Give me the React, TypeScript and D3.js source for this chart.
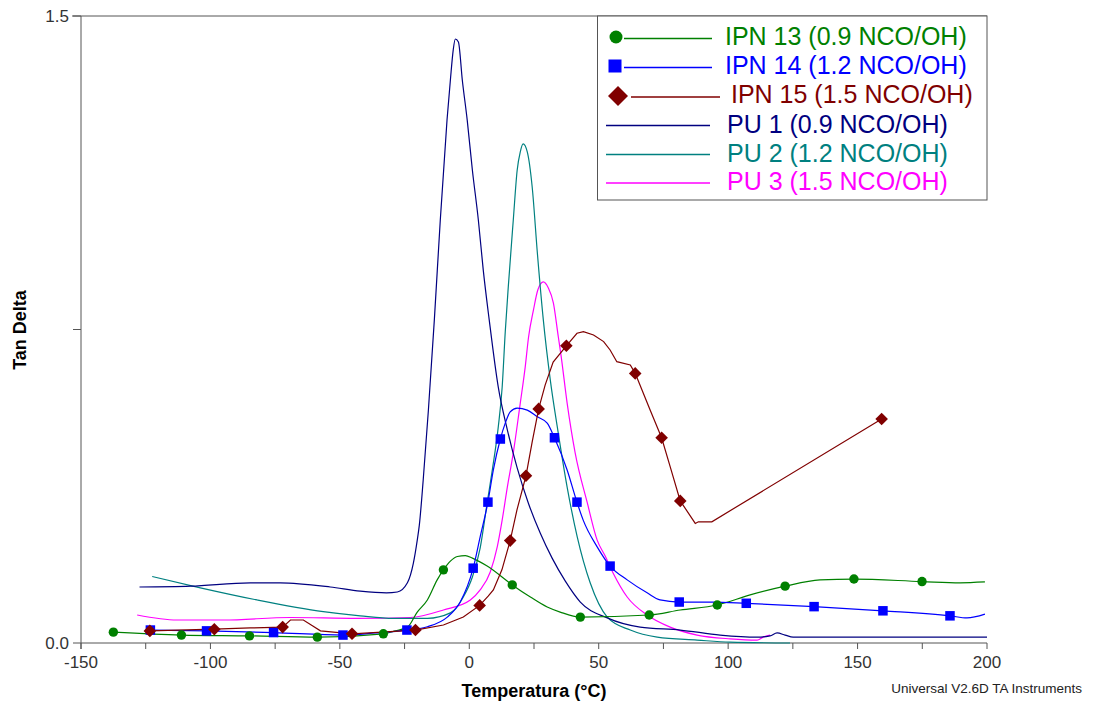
import React from "react";
import * as d3 from "d3";

// Tan delta vs temperature (DMA) for three IPNs and three polyurethanes
const xTicksMajor = [-150, -100, -50, 0, 50, 100, 150, 200];
const xTicksMinor = [-125, -75, -25, 25, 75, 125, 175];
const yTicks = [0, 0.75, 1.5];
const yTickLabels = ["0.0", "", "1.5"];

const pu1Temp = [-127.4, -107.7, -84.6, -73.0, -53.7, -42.1, -32.0, -27.8, -23.9, -21.6, -20.1, -19.3, -17.8, -15.8, -13.5, -11.2, -8.6, -7.3, -6.2, -5.4, -4.2, -2.7, -0.8, 1.2, 3.5, 5.4, 7.7, 11.2, 14.7, 18.5, 22.8, 27.4, 32.0, 37.1, 42.9, 53.3, 66.0, 81.5, 96.9, 111.2, 116.2, 118.9, 122.0, 125.1, 200];
const pu1Tan = [0.134, 0.136, 0.144, 0.144, 0.134, 0.124, 0.120, 0.122, 0.144, 0.191, 0.246, 0.282, 0.390, 0.557, 0.773, 1.012, 1.251, 1.347, 1.419, 1.445, 1.438, 1.347, 1.251, 1.131, 1.012, 0.892, 0.773, 0.612, 0.510, 0.419, 0.335, 0.263, 0.203, 0.148, 0.098, 0.060, 0.038, 0.031, 0.019, 0.014, 0.017, 0.024, 0.019, 0.014, 0.014];

const pu2Temp = [-122.5, -103.9, -82.0, -56.4, -42.1, -29.3, -16.2, -7.3, -2.3, 1.2, 4.2, 6.9, 8.9, 11.2, 12.7, 13.9, 15.1, 17.0, 18.5, 19.7, 20.8, 22.4, 24.3, 26.3, 28.6, 31.3, 34.0, 37.8, 41.7, 46.7, 53.3, 62.2, 72.6, 88.0, 100.8, 123.9];
const pu2Tan = [0.159, 0.132, 0.103, 0.075, 0.065, 0.059, 0.059, 0.072, 0.110, 0.158, 0.227, 0.335, 0.414, 0.517, 0.612, 0.745, 0.855, 1.012, 1.131, 1.175, 1.194, 1.175, 1.091, 0.933, 0.773, 0.629, 0.517, 0.373, 0.254, 0.144, 0.062, 0.031, 0.014, 0.007, 0.002, 0.0];

const pu3Temp = [-128.3, -112.9, -95.0, -69.1, -43.4, -22.8, -10.0, 0.4, 4.2, 8.1, 10.8, 12.7, 14.7, 17.0, 19.7, 21.6, 22.9, 24.8, 26.5, 28.6, 30.5, 32.5, 34.4, 35.4, 37.8, 40.9, 45.6, 49.4, 52.5, 55.6, 61.0, 68.7, 77.6, 88.0, 100.8, 111.2, 113.5, 116.2];
const pu3Tan = [0.067, 0.055, 0.055, 0.061, 0.059, 0.061, 0.079, 0.103, 0.127, 0.170, 0.230, 0.294, 0.373, 0.455, 0.574, 0.660, 0.732, 0.797, 0.845, 0.864, 0.850, 0.813, 0.732, 0.690, 0.574, 0.455, 0.335, 0.246, 0.208, 0.167, 0.110, 0.067, 0.038, 0.019, 0.010, 0.007, 0.014, 0.019];

const ipn13Temp = [-137.5, -111.2, -84.9, -58.7, -33.2, -28.6, -23.9, -20.1, -16.2, -12.4, -10.0, -7.3, -4.6, -1.5, 1.2, 6.9, 16.6, 23.6, 30.1, 35.1, 42.9, 69.5, 81.5, 95.8, 108.5, 122.0, 135.5, 148.6, 174.9, 189.6, 199.2];
const ipn13Tan = [0.026, 0.019, 0.017, 0.014, 0.022, 0.029, 0.038, 0.074, 0.103, 0.151, 0.175, 0.196, 0.207, 0.209, 0.203, 0.184, 0.139, 0.110, 0.086, 0.074, 0.062, 0.067, 0.079, 0.091, 0.115, 0.136, 0.151, 0.153, 0.147, 0.144, 0.146];
const ipn13MarkTemp = [-137.5, -111.2, -84.9, -58.7, -33.2, -10.0, 16.6, 42.9, 69.5, 95.8, 122.0, 148.6, 174.9];
const ipn13MarkTan = [0.026, 0.019, 0.017, 0.014, 0.022, 0.175, 0.139, 0.062, 0.067, 0.091, 0.136, 0.153, 0.147];

const ipn14Temp = [-123.2, -101.5, -75.6, -48.8, -36.3, -24.1, -16.2, -8.5, -3.5, 1.5, 4.2, 7.2, 9.3, 12.0, 13.9, 15.8, 18.5, 22.4, 26.3, 30.1, 32.9, 37.8, 41.6, 44.0, 49.4, 54.4, 61.0, 68.7, 73.7, 81.1, 94.2, 107.0, 133.2, 159.8, 185.7, 192.3, 199.2];
const ipn14Tan = [0.031, 0.029, 0.025, 0.019, 0.024, 0.031, 0.039, 0.062, 0.098, 0.179, 0.254, 0.337, 0.414, 0.488, 0.526, 0.553, 0.562, 0.557, 0.541, 0.526, 0.491, 0.414, 0.337, 0.294, 0.230, 0.184, 0.151, 0.120, 0.103, 0.098, 0.098, 0.095, 0.087, 0.077, 0.065, 0.060, 0.069];
const ipn14MarkTemp = [-123.2, -101.5, -75.6, -48.8, -24.1, 1.5, 7.2, 12.0, 32.9, 41.6, 54.4, 81.1, 107.0, 133.2, 159.8, 185.7];
const ipn14MarkTan = [0.031, 0.029, 0.025, 0.019, 0.031, 0.179, 0.337, 0.488, 0.491, 0.337, 0.184, 0.098, 0.095, 0.087, 0.077, 0.065];

const ipn15Temp = [-123.4, -98.5, -84.6, -72.1, -69.1, -64.1, -60.6, -57.5, -45.3, -20.8, -10.0, -2.3, 4.0, 7.3, 9.3, 12.6, 15.8, 18.4, 21.9, 24.3, 26.8, 29.3, 32.4, 37.5, 41.6, 44.1, 48.0, 51.9, 54.4, 57.0, 62.2, 64.1, 69.9, 74.3, 77.6, 81.5, 87.3, 88.5, 93.7, 159.3];
const ipn15Tan = [0.029, 0.033, 0.036, 0.038, 0.055, 0.055, 0.041, 0.029, 0.022, 0.031, 0.043, 0.062, 0.090, 0.112, 0.127, 0.175, 0.245, 0.318, 0.400, 0.481, 0.560, 0.617, 0.672, 0.711, 0.741, 0.745, 0.737, 0.721, 0.701, 0.673, 0.665, 0.645, 0.557, 0.491, 0.422, 0.340, 0.286, 0.290, 0.290, 0.536];
const ipn15MarkTemp = [-123.4, -98.5, -72.1, -45.3, -20.8, 4.0, 15.8, 21.9, 26.8, 37.5, 64.1, 74.3, 81.5, 159.3];
const ipn15MarkTan = [0.029, 0.033, 0.038, 0.022, 0.031, 0.090, 0.245, 0.400, 0.560, 0.711, 0.645, 0.491, 0.340, 0.536];

type Pt = [number, number];
const zip = (a: number[], b: number[]): Pt[] => a.map((v, i) => [v, b[i]]);

const W = 1093;
const H = 704;
const left = 81;
const right = 987;
const top = 16;
const bottom = 643;

const x = d3.scaleLinear().domain([-150, 200]).range([left, right]);
const y = d3.scaleLinear().domain([0, 1.5]).range([bottom, top]);

const smooth = d3.line<Pt>().x((d) => x(d[0])).y((d) => y(d[1])).curve(d3.curveMonotoneX);
const straight = d3.line<Pt>().x((d) => x(d[0])).y((d) => y(d[1]));

const GREEN = "#008000";
const BLUE = "#0000ff";
const DARKRED = "#800000";
const NAVY = "#000080";
const TEAL = "#008080";
const MAGENTA = "#ff00ff";

const FONT = "'Liberation Sans', Arial, Helvetica, sans-serif";

function Circle({ cx, cy, r, fill }: { cx: number; cy: number; r: number; fill: string }) {
  return <circle cx={cx} cy={cy} r={r} fill={fill} />;
}
function Square({ cx, cy, s, fill }: { cx: number; cy: number; s: number; fill: string }) {
  return <rect x={cx - s / 2} y={cy - s / 2} width={s} height={s} fill={fill} />;
}
function Diamond({ cx, cy, h, fill }: { cx: number; cy: number; h: number; fill: string }) {
  return <path d={`M${cx},${cy - h}L${cx + h},${cy}L${cx},${cy + h}L${cx - h},${cy}Z`} fill={fill} />;
}

const legendRows = [
  { label: "IPN 13 (0.9 NCO/OH)", color: GREEN, marker: "circle", lineX: [624, 712], textX: 725, lineY: 38.5, base: 45 },
  { label: "IPN 14 (1.2 NCO/OH)", color: BLUE, marker: "square", lineX: [624, 712], textX: 725, lineY: 67.5, base: 74 },
  { label: "IPN 15 (1.5 NCO/OH)", color: DARKRED, marker: "diamond", lineX: [631, 720], textX: 731, lineY: 97, base: 103 },
  { label: "PU 1 (0.9 NCO/OH)", color: NAVY, marker: "", lineX: [606, 710], textX: 727, lineY: 125.5, base: 133 },
  { label: "PU 2 (1.2 NCO/OH)", color: TEAL, marker: "", lineX: [606, 710], textX: 727, lineY: 154.5, base: 162 },
  { label: "PU 3 (1.5 NCO/OH)", color: MAGENTA, marker: "", lineX: [606, 710], textX: 727, lineY: 183, base: 190 },
];

export default function App() {
  const axisColor = "#555";
  const pu1 = zip(pu1Temp, pu1Tan);
  const pu2 = zip(pu2Temp, pu2Tan);
  const pu3 = zip(pu3Temp, pu3Tan);
  const ipn13 = zip(ipn13Temp, ipn13Tan);
  const ipn14 = zip(ipn14Temp, ipn14Tan);
  const ipn15 = zip(ipn15Temp, ipn15Tan);
  const m13 = zip(ipn13MarkTemp, ipn13MarkTan);
  const m14 = zip(ipn14MarkTemp, ipn14MarkTan);
  const m15 = zip(ipn15MarkTemp, ipn15MarkTan);

  return (
    <svg
      width={W}
      height={H}
      viewBox={`0 0 ${W} ${H}`}
      style={{ position: "absolute", left: 0, top: 0, background: "#fff" }}
      fontFamily={FONT}
    >
      <rect x={0} y={0} width={W} height={H} fill="#fff" />

      {/* axes */}
      <line x1={left} y1={top} x2={left} y2={bottom + 6} stroke={axisColor} strokeWidth={1} />
      <line x1={left} y1={bottom} x2={right} y2={bottom} stroke={axisColor} strokeWidth={1} />
      <line x1={left - 9} y1={top} x2={right} y2={top} stroke={axisColor} strokeWidth={1} />
      {yTicks.map((t, i) => (
        <g key={"y" + t}>
          <line x1={left - 8} x2={left} y1={y(t)} y2={y(t)} stroke={axisColor} />
          {yTickLabels[i] && (
            <text x={left - 12} y={y(t)} dy="0.35em" textAnchor="end" fontSize={17} fill="#333">
              {yTickLabels[i]}
            </text>
          )}
        </g>
      ))}
      {xTicksMajor.map((t) => (
        <g key={"x" + t}>
          <line x1={x(t)} x2={x(t)} y1={bottom} y2={bottom + 6} stroke={axisColor} />
          <text x={x(t)} y={668} textAnchor="middle" fontSize={17} fill="#333">
            {t}
          </text>
        </g>
      ))}
      {xTicksMinor.map((t) => (
        <line key={"xm" + t} x1={x(t)} x2={x(t)} y1={bottom} y2={bottom + 6} stroke={axisColor} />
      ))}

      <text x={534} y={697} textAnchor="middle" fontSize={18} fontWeight="bold" fill="#000">
        Temperatura (°C)
      </text>
      <text
        transform={`translate(26,330) rotate(-90)`}
        textAnchor="middle"
        fontSize={18}
        fontWeight="bold"
        fill="#000"
      >
        Tan Delta
      </text>
      <text x={1082} y={693} textAnchor="end" fontSize={13.5} fill="#222">
        Universal V2.6D TA Instruments
      </text>

      {/* curves */}
      <g fill="none" strokeWidth={1.2}>
        <path d={smooth(pu3) || ""} stroke={MAGENTA} />
        <path d={smooth(pu2) || ""} stroke={TEAL} />
        <path d={smooth(pu1) || ""} stroke={NAVY} />
        <path d={smooth(ipn13) || ""} stroke={GREEN} />
        <path d={smooth(ipn14) || ""} stroke={BLUE} />
        <path d={straight(ipn15) || ""} stroke={DARKRED} />
      </g>

      {/* markers */}
      {m13.map((d, i) => (
        <Circle key={"c" + i} cx={x(d[0])} cy={y(d[1])} r={4.7} fill={GREEN} />
      ))}
      {m14.map((d, i) => (
        <Square key={"s" + i} cx={x(d[0])} cy={y(d[1])} s={9.5} fill={BLUE} />
      ))}
      {m15.map((d, i) => (
        <Diamond key={"d" + i} cx={x(d[0])} cy={y(d[1])} h={6.3} fill={DARKRED} />
      ))}

      {/* legend */}
      <rect x={597.5} y={16} width={389.5} height={184} fill="#fff" stroke={axisColor} strokeWidth={1} />
      {legendRows.map((r) => (
        <g key={r.label}>
          <line x1={r.lineX[0]} x2={r.lineX[1]} y1={r.lineY} y2={r.lineY} stroke={r.color} strokeWidth={1.5} />
          {r.marker === "circle" && <Circle cx={616} cy={r.lineY - 1.5} r={6.5} fill={r.color} />}
          {r.marker === "square" && <Square cx={615} cy={r.lineY - 1.5} s={13} fill={r.color} />}
          {r.marker === "diamond" && <Diamond cx={618} cy={r.lineY - 1} h={10} fill={r.color} />}
          <text x={r.textX} y={r.base} fontSize={25} fill={r.color}>
            {r.label}
          </text>
        </g>
      ))}
    </svg>
  );
}
